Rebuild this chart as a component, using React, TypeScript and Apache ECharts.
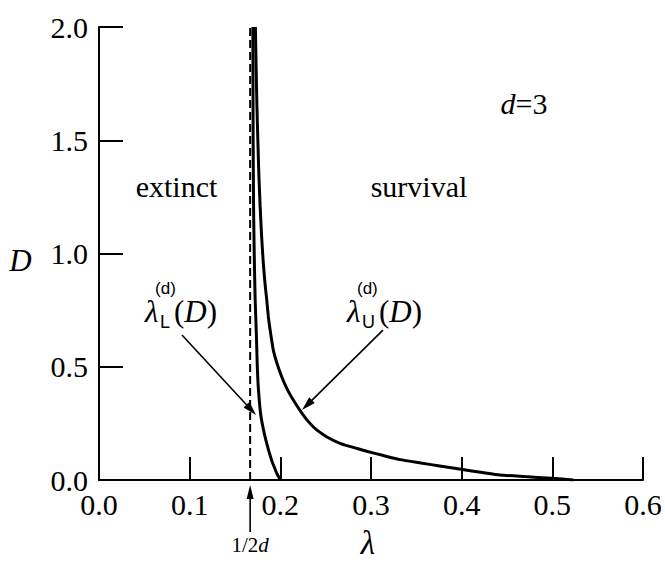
import React, { useEffect, useRef } from "react";
import * as echarts from "echarts";

// Axis ranges / ticks
const xMin = 0;
const xMax = 0.6;
const xStep = 0.1;
const yMin = 0;
const yMax = 2.0;
const yStep = 0.5;

// Lower critical curve lambda_L^(d)(D)
const lowerLambda = [0.2, 0.198, 0.196, 0.1935, 0.191, 0.1875, 0.184, 0.1815, 0.1795, 0.178, 0.1768, 0.1755, 0.1746, 0.1735, 0.1722, 0.1712, 0.1705, 0.17, 0.1697];
const lowerD = [0, 0.015, 0.03, 0.055, 0.08, 0.125, 0.177, 0.22, 0.26, 0.3, 0.35, 0.42, 0.5, 0.65, 0.8, 1.0, 1.2, 1.5, 2.0];

// Upper critical curve lambda_U^(d)(D)
const upperLambda = [0.523, 0.499, 0.469, 0.442, 0.423, 0.3993, 0.374, 0.355, 0.332, 0.3137, 0.2972, 0.2837, 0.2658, 0.2514, 0.2401, 0.2327, 0.2247, 0.2143, 0.2077, 0.2015, 0.1959, 0.1922, 0.1892, 0.1868, 0.185, 0.1828, 0.181, 0.1793, 0.1777, 0.1763, 0.1752, 0.1742, 0.1734, 0.1725];
const upperD = [0, 0.0075, 0.015, 0.022, 0.033, 0.047, 0.063, 0.075, 0.09, 0.108, 0.125, 0.14, 0.162, 0.19, 0.221, 0.25, 0.29, 0.353, 0.4, 0.456, 0.52, 0.574, 0.65, 0.72, 0.795, 0.88, 0.97, 1.08, 1.21, 1.35, 1.5, 1.65, 1.8, 2.0];

// Mean-field value 1/(2d), d = 3
const halfInvLambda = [0.1667, 0.1667];
const halfInvD = [0, 2.0];

const SERIF = "Liberation Serif";
const SANS = "Liberation Sans";

function pairs(xs: number[], ys: number[]) {
  return xs.map((x, i) => [x, ys[i]]);
}

export default function App() {
  const ref = useRef<HTMLDivElement>(null);

  useEffect(() => {
    if (!ref.current) return;
    const chart = echarts.init(ref.current, null, { renderer: "svg" });
    const curveStyle = { color: "#000", width: 3 };
    chart.setOption({
      animation: false,
      backgroundColor: "#fff",
      grid: { left: 99, right: 22, top: 27, bottom: 83, containLabel: false, outerBoundsMode: "none" },
      xAxis: {
        type: "value",
        min: xMin,
        max: xMax,
        interval: xStep,
        axisLine: { show: true, lineStyle: { color: "#000", width: 2 } },
        axisTick: { show: true, inside: true, length: 23, lineStyle: { color: "#000", width: 2 } },
        axisLabel: {
          color: "#000",
          fontFamily: SERIF,
          fontSize: 30,
          margin: 9,
          formatter: (v: number) => v.toFixed(1),
        },
        splitLine: { show: false },
      },
      yAxis: {
        type: "value",
        min: yMin,
        max: yMax,
        interval: yStep,
        axisLine: { show: true, lineStyle: { color: "#000", width: 2 } },
        axisTick: { show: true, inside: true, length: 24, lineStyle: { color: "#000", width: 2 } },
        axisLabel: {
          color: "#000",
          fontFamily: SERIF,
          fontSize: 30,
          margin: 11,
          formatter: (v: number) => v.toFixed(1),
        },
        splitLine: { show: false },
      },
      series: [
        {
          type: "line",
          data: pairs(halfInvLambda, halfInvD),
          showSymbol: false,
          lineStyle: { color: "#000", width: 2, type: [8, 4] },
          silent: true,
        },
        {
          type: "line",
          data: pairs(lowerLambda, lowerD),
          showSymbol: false,
          smooth: 0.15,
          lineStyle: curveStyle,
          silent: true,
        },
        {
          type: "line",
          data: pairs(upperLambda, upperD),
          showSymbol: false,
          smooth: 0.15,
          lineStyle: curveStyle,
          silent: true,
        },
      ],
    });

    const px = (l: number, d: number) => chart.convertToPixel({ gridIndex: 0 }, [l, d]) as number[];

    const text = (
      p: number[],
      str: string,
      size: number,
      family: string,
      opts: any = {}
    ) => ({
      type: "text",
      x: p[0] + (opts.dx || 0),
      y: p[1] + (opts.dy || 0),
      silent: true,
      style: {
        text: str,
        fill: "#000",
        fontSize: size,
        fontFamily: family,
        fontStyle: opts.italic ? "italic" : "normal",
        align: opts.align || "center",
        verticalAlign: "middle",
        rich: opts.rich,
      },
    });

    const arrow = (s: number[], t: number[], len = 14, half = 4) => {
      const dx = t[0] - s[0];
      const dy = t[1] - s[1];
      const m = Math.hypot(dx, dy);
      const ux = dx / m;
      const uy = dy / m;
      const nx = -uy;
      const ny = ux;
      const bx = t[0] - ux * len;
      const by = t[1] - uy * len;
      return [
        {
          type: "line",
          silent: true,
          shape: { x1: s[0], y1: s[1], x2: bx + ux * 2, y2: by + uy * 2 },
          style: { stroke: "#000", lineWidth: 1.6 },
        },
        {
          type: "polygon",
          silent: true,
          shape: {
            points: [
              [t[0], t[1]],
              [bx + nx * half, by + ny * half],
              [bx - nx * half, by - ny * half],
            ],
          },
          style: { fill: "#000" },
        },
      ];
    };

    const italicRich = (size: number) => ({
      i: { fontStyle: "italic", fontSize: size, fontFamily: SERIF, fill: "#000" },
    });

    // label for lambda_X^(d)(D), anchor = left of lambda, baseline
    const lambdaLabel = (anchor: number[], sub: string, parenX: number) => {
      const [ax, ay] = anchor;
      return [
        text([ax, ay - 10], "λ", 31, SERIF, { align: "left", italic: true }),
        text([ax + 15, ay + 0], sub, 18, SANS, { align: "left" }),
        text([ax + 10, ay - 33], "(d)", 17, SANS, { align: "left" }),
        text([ax + parenX, ay - 10], "({i|D})", 31, SERIF, { align: "left", rich: italicRich(31) }),
      ];
    };

    const graphic: any[] = [
      text(px(0.4687, 1.664), "{i|d}=3", 30, SERIF, { rich: italicRich(30) }),
      text(px(0.0855, 1.298), "extinct", 30, SERIF),
      text(px(0.3529, 1.298), "survival", 30, SERIF),
      text(px(-0.0866, 0.967), "D", 31, SERIF, { italic: true }),
      text(px(0.2967, -0.278), "λ", 33, SERIF, { italic: true }),
      text(px(0.1667, -0.287), "1/2{i|d}", 21, SERIF, { rich: italicRich(21) }),
      ...lambdaLabel(px(0.0508, 0.698), "L", 29),
      ...lambdaLabel(px(0.2735, 0.698), "U", 32),
      ...arrow(px(0.0915, 0.64), px(0.1732, 0.287)),
      ...arrow(px(0.3132, 0.662), px(0.2239, 0.309)),
      ...arrow(px(0.1667, -0.2296), px(0.1667, -0.022), 14, 3.5),
    ];

    chart.setOption({ graphic });

    return () => chart.dispose();
  }, []);

  return (
    <div
      ref={ref}
      style={{ position: "absolute", left: 0, top: 0, width: 665, height: 563, background: "#fff" }}
    />
  );
}
